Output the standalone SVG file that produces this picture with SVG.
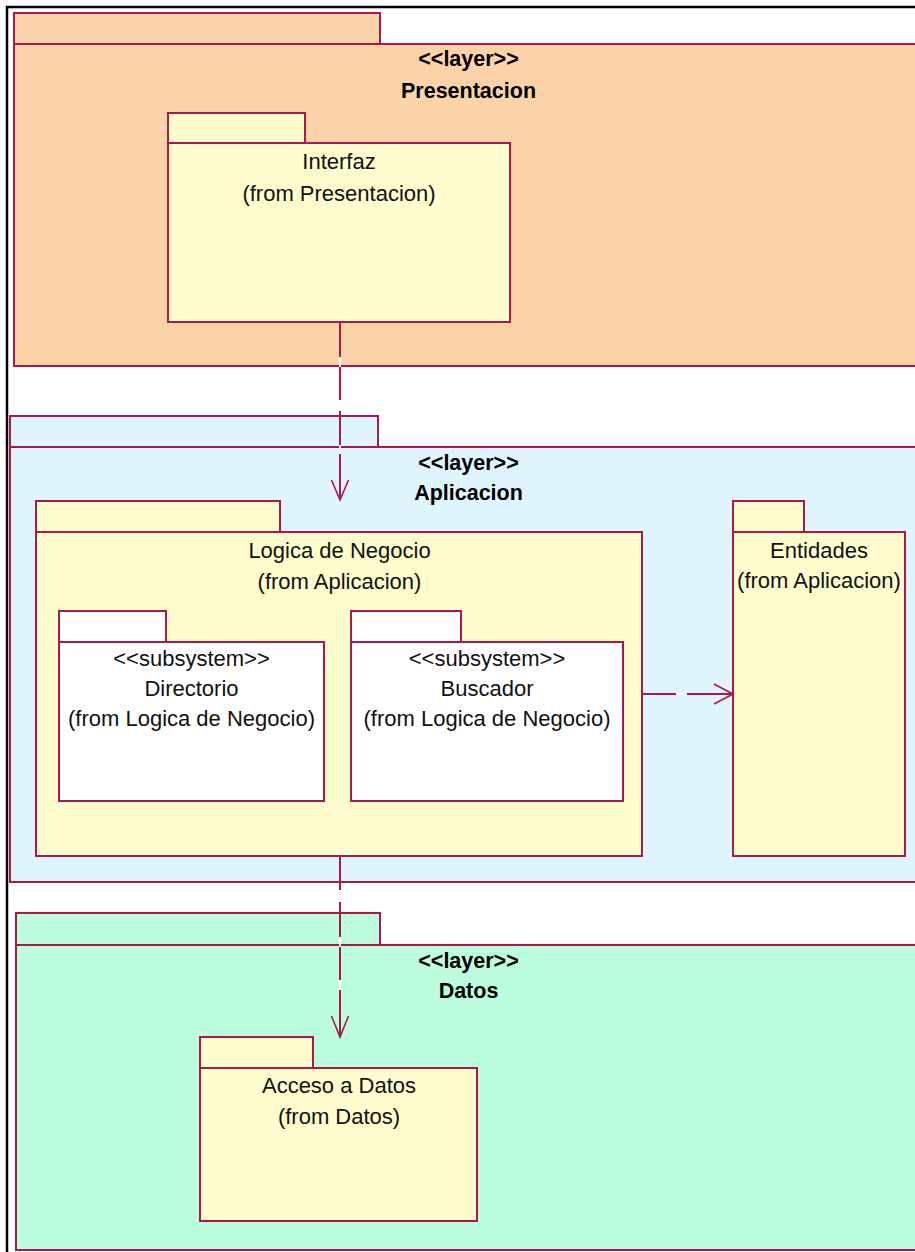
<svg xmlns="http://www.w3.org/2000/svg" width="915" height="1252" viewBox="0 0 915 1252">
  <defs>
    <style>
      .pkg { stroke: #AA194B; stroke-width: 2; }
      .layerPres { fill: #FCD3A9; }
      .layerApp { fill: #E0F4FD; }
      .layerDat { fill: #BCFDDE; }
      .yellow { fill: #FFFCCD; }
      .white { fill: #FFFFFF; }
      .lbl { font-family: "Liberation Sans", Arial, sans-serif; font-size: 22px; fill: #111; text-anchor: middle; }
      .stereo { font-family: "Liberation Sans", Arial, sans-serif; font-size: 21.5px; font-weight: bold; fill: #000; text-anchor: middle; }
      .dep-under { stroke: #FFFFFF; stroke-width: 2; fill: none; }
      .dep { stroke: #AA194B; stroke-width: 2; fill: none; }
      .head { stroke: #AA194B; stroke-width: 1.6; fill: none; }
    </style>
  </defs>

  <rect x="0" y="0" width="915" height="1252" fill="#FFFFFF"/>

  <!-- outer frame -->
  <g id="frame" stroke="#000" stroke-width="2.5" fill="none">
    <line x1="7" y1="6" x2="7" y2="1252"/>
    <line x1="6" y1="7" x2="915" y2="7"/>
  </g>

  <!-- layer: Presentacion -->
  <g id="layer-presentacion">
    <rect class="pkg layerPres" x="14" y="13" width="366" height="31"/>
    <rect class="pkg layerPres" x="14" y="44" width="910" height="322"/>
    <text class="stereo" x="468.5" y="66">&lt;&lt;layer&gt;&gt;</text>
    <text class="stereo" x="468.5" y="98">Presentacion</text>
  </g>

  <!-- layer: Aplicacion -->
  <g id="layer-aplicacion">
    <rect class="pkg layerApp" x="10" y="416" width="368" height="31"/>
    <rect class="pkg layerApp" x="10" y="447" width="914" height="435"/>
    <text class="stereo" x="468.5" y="470">&lt;&lt;layer&gt;&gt;</text>
    <text class="stereo" x="468.5" y="500">Aplicacion</text>
  </g>

  <!-- layer: Datos -->
  <g id="layer-datos">
    <rect class="pkg layerDat" x="16" y="913" width="364" height="32"/>
    <rect class="pkg layerDat" x="16" y="945" width="908" height="305"/>
    <text class="stereo" x="468.5" y="968">&lt;&lt;layer&gt;&gt;</text>
    <text class="stereo" x="468.5" y="998">Datos</text>
  </g>

  <!-- package: Interfaz -->
  <g id="pkg-interfaz">
    <rect class="pkg yellow" x="168" y="113" width="137" height="30"/>
    <rect class="pkg yellow" x="168" y="143" width="342" height="179"/>
    <text class="lbl" x="339" y="169">Interfaz</text>
    <text class="lbl" x="339" y="201">(from Presentacion)</text>
  </g>

  <!-- package: Logica de Negocio -->
  <g id="pkg-logica">
    <rect class="pkg yellow" x="36" y="501" width="244" height="31"/>
    <rect class="pkg yellow" x="36" y="532" width="606" height="324"/>
    <text class="lbl" x="339.5" y="558">Logica de Negocio</text>
    <text class="lbl" x="339.5" y="589">(from Aplicacion)</text>
  </g>

  <!-- subsystem: Directorio -->
  <g id="sub-directorio">
    <rect class="pkg white" x="59" y="611" width="107" height="31"/>
    <rect class="pkg white" x="59" y="642" width="265" height="159"/>
    <text class="lbl" x="191.5" y="666">&lt;&lt;subsystem&gt;&gt;</text>
    <text class="lbl" x="191.5" y="696">Directorio</text>
    <text class="lbl" x="191.5" y="726">(from Logica de Negocio)</text>
  </g>

  <!-- subsystem: Buscador -->
  <g id="sub-buscador">
    <rect class="pkg white" x="351" y="611" width="110" height="31"/>
    <rect class="pkg white" x="351" y="642" width="272" height="159"/>
    <text class="lbl" x="487" y="666">&lt;&lt;subsystem&gt;&gt;</text>
    <text class="lbl" x="487" y="696">Buscador</text>
    <text class="lbl" x="487" y="726">(from Logica de Negocio)</text>
  </g>

  <!-- package: Entidades -->
  <g id="pkg-entidades">
    <rect class="pkg yellow" x="733" y="501" width="71" height="31"/>
    <rect class="pkg yellow" x="733" y="532" width="172" height="324"/>
    <text class="lbl" x="819" y="558">Entidades</text>
    <text class="lbl" x="819" y="588">(from Aplicacion)</text>
  </g>

  <!-- package: Acceso a Datos -->
  <g id="pkg-acceso">
    <rect class="pkg yellow" x="200" y="1037" width="113" height="31"/>
    <rect class="pkg yellow" x="200" y="1068" width="277" height="153"/>
    <text class="lbl" x="339" y="1093">Acceso a Datos</text>
    <text class="lbl" x="339" y="1124">(from Datos)</text>
  </g>

  <!-- dependencies (dashed, open arrowheads) -->
  <g id="connectors">
    <line class="dep-under" x1="340" y1="322" x2="340" y2="500"/>
    <line class="dep" x1="340" y1="322" x2="340" y2="500" stroke-dasharray="35 10 33 11 34 9 47"/>
    <polyline class="head" points="331.5,480 340,500 348.5,480"/>

    <line class="dep-under" x1="340" y1="856" x2="340" y2="1037"/>
    <line class="dep" x1="340" y1="856" x2="340" y2="1037" stroke-dasharray="34 12 35 10 33 10 47"/>
    <polyline class="head" points="331.5,1016 340,1037 348.5,1016"/>

    <line class="dep-under" x1="643" y1="694" x2="733" y2="694"/>
    <line class="dep" x1="643" y1="694" x2="733" y2="694" stroke-dasharray="33 11 46"/>
    <polyline class="head" points="714,684 733,694 714,704"/>
  </g>
</svg>
